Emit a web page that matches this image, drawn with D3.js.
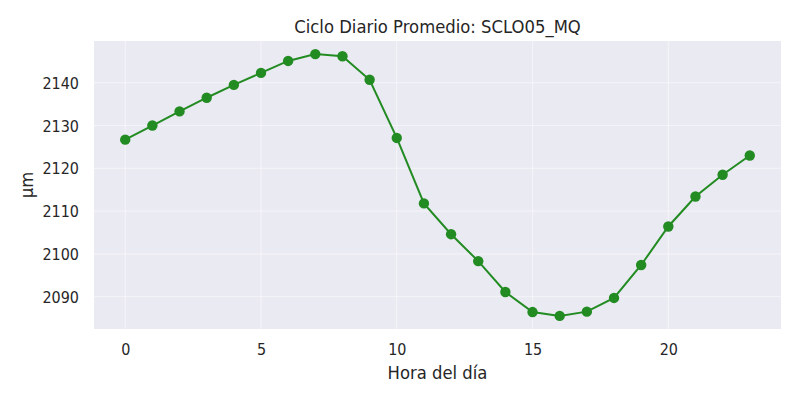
<!DOCTYPE html>
<html>
<head>
<meta charset="utf-8">
<script src="https://cdn.jsdelivr.net/npm/d3@7"></script>
<style>
  body { margin: 0; background: #fff; }
  svg text { font-family: "DejaVu Sans", sans-serif; fill: #262626; }
</style>
</head>
<body>
<svg id="chart" width="800" height="400"></svg>
<script>
const hours = [0,1,2,3,4,5,6,7,8,9,10,11,12,13,14,15,16,17,18,19,20,21,22,23];
const values = [2126.7,2130.0,2133.3,2136.5,2139.5,2142.3,2145.1,2146.7,2146.2,2140.7,2127.1,2111.8,
                2104.6,2098.3,2091.1,2086.4,2085.5,2086.5,2089.7,2097.4,2106.4,2113.4,2118.5,2123.0];
const xTicks = [0,5,10,15,20];
const yTicks = [2090,2100,2110,2120,2130,2140];
const title = "Ciclo Diario Promedio: SCLO05_MQ";
const xLabel = "Hora del día";
const yLabel = "µm";

const SX = 0.94; // horizontal text squeeze
const svg = d3.select("#chart");
const m = {left: 94, top: 41, right: 781, bottom: 329};

const xExt = d3.extent(hours), xPad = (xExt[1]-xExt[0])*0.05;
const yExt = d3.extent(values), yPad = (yExt[1]-yExt[0])*0.05;
const x = d3.scaleLinear().domain([xExt[0]-xPad, xExt[1]+xPad]).range([m.left, m.right]);
const y = d3.scaleLinear().domain([yExt[0]-yPad, yExt[1]+yPad]).range([m.bottom, m.top]);

svg.append("rect").attr("x", m.left).attr("y", m.top)
  .attr("width", m.right-m.left).attr("height", m.bottom-m.top).attr("fill", "#EAEAF2");

// grid
svg.append("g").selectAll("line").data(xTicks).join("line")
  .attr("x1", d=>x(d)).attr("x2", d=>x(d)).attr("y1", m.top).attr("y2", m.bottom)
  .attr("stroke", "#fff").attr("stroke-opacity", 0.5).attr("stroke-width", 1);
svg.append("g").selectAll("line").data(yTicks).join("line")
  .attr("y1", d=>y(d)).attr("y2", d=>y(d)).attr("x1", m.left).attr("x2", m.right)
  .attr("stroke", "#fff").attr("stroke-opacity", 0.5).attr("stroke-width", 1);

// axes
const xAxis = d3.axisBottom(x).tickValues(xTicks).tickSize(0).tickPadding(14).tickFormat(d3.format("d"));
const gx = svg.append("g").attr("transform", `translate(0,${m.bottom})`).call(xAxis);
gx.select(".domain").remove();
gx.selectAll("text").attr("font-size", 15.3).attr("fill", "#262626")
  .style("font-family", "DejaVu Sans")
  .attr("y", 26).attr("dy", 0).attr("x", 0).attr("transform", `scale(${SX},1)`);

const yAxis = d3.axisLeft(y).tickValues(yTicks).tickSize(0).tickPadding(15).tickFormat(d3.format("d"));
const gy = svg.append("g").attr("transform", `translate(${m.left},0)`).call(yAxis);
gy.select(".domain").remove();
gy.selectAll("text").attr("font-size", 15.3).attr("fill", "#262626")
  .style("font-family", "DejaVu Sans")
  .attr("x", -15/SX).attr("dy", "0.36em").attr("transform", `scale(${SX},1)`);

// line
const line = d3.line().x((d,i)=>x(hours[i])).y(d=>y(d));
svg.append("path").datum(values).attr("d", line)
  .attr("fill", "none").attr("stroke", "#228B22").attr("stroke-width", 2);
svg.append("g").selectAll("circle").data(values).join("circle")
  .attr("cx", (d,i)=>x(hours[i])).attr("cy", d=>y(d)).attr("r", 5.2)
  .attr("fill", "#228B22");

// labels
svg.append("text").attr("transform", `translate(${(m.left+m.right)/2},33) scale(${SX},1)`)
  .attr("text-anchor", "middle").attr("font-size", 17.5).text(title);
svg.append("text").attr("transform", `translate(${(m.left+m.right)/2},379) scale(${SX},1)`)
  .attr("text-anchor", "middle").attr("font-size", 17.5).text(xLabel);
svg.append("text").attr("transform", `translate(33,${(m.top+m.bottom)/2}) rotate(-90) scale(${SX},1)`)
  .attr("text-anchor", "middle").attr("font-size", 17.5).text(yLabel);
</script>
</body>
</html>
